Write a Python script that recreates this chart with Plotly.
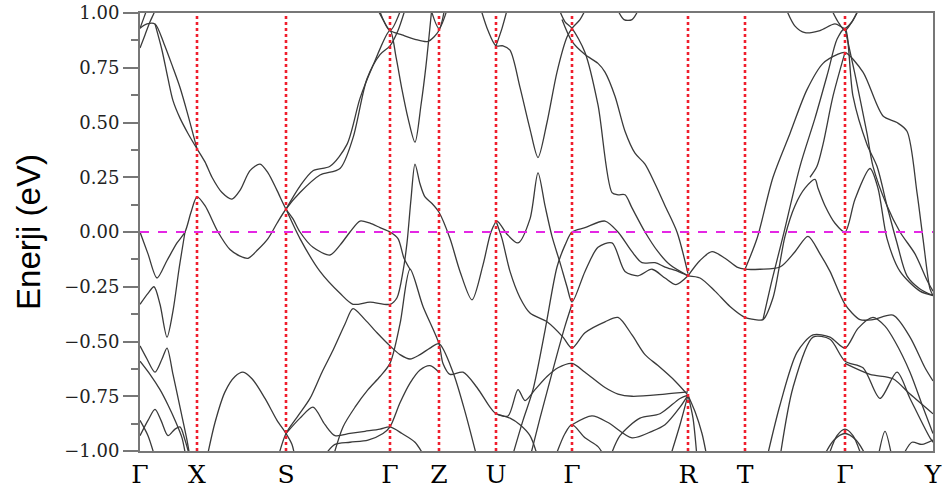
import plotly.graph_objects as go

# ---- high-symmetry path (k-path distance, arbitrary units) ----
k_ticks = [0, 57, 146, 250, 299, 356, 432, 548, 605, 705, 793]
k_labels = ['Γ', 'X', 'S', 'Γ', 'Z', 'U', 'Γ', 'R', 'T', 'Γ', 'Y']

e_ticks = [-1.0, -0.75, -0.5, -0.25, 0.0, 0.25, 0.5, 0.75, 1.0]
e_labels = ['−1.00', '−0.75', '−0.50', '−0.25', '0.00', '0.25', '0.50', '0.75', '1.00']
e_minor = [-0.875, -0.625, -0.375, -0.125, 0.125, 0.375, 0.625, 0.875]

# ---- bands: [k, E(eV)] ----
gx_top_a = [[0, 0.93], [7, 0.95], [15, 0.95], [24, 0.86], [33, 0.75], [40, 0.66], [47, 0.55], [57, 0.38]]
gx_top_b = [[15, 0.95], [22, 0.83], [28, 0.70], [33, 0.60], [40, 0.52], [48, 0.45], [57, 0.38]]
gx_top_c = [[0, 0.84], [5, 0.90], [10, 0.96], [14, 1.00], [16, 1.03]]
gx_top_d = [[0, 0.93], [4, 0.98], [8, 1.03]]

band_xs_up = [[57, 0.38], [65, 0.32], [72, 0.25], [82, 0.18], [92, 0.15], [100, 0.19], [110, 0.28],
              [120, 0.31], [128, 0.27], [137, 0.19], [146, 0.105], [153, 0.06], [160, 0.0],
              [173, -0.07], [190, -0.105], [200, -0.06], [210, 0.0], [220, 0.05], [230, 0.04],
              [240, 0.02], [250, 0.0], [258, -0.03], [264, -0.12], [270, -0.17]]
band_xs_lo = [[0, 0.0], [8, -0.10], [17, -0.21], [27, -0.13], [37, -0.05], [45, 0.0], [51, 0.09],
              [57, 0.16], [65, 0.12], [78, 0.0], [90, -0.08], [100, -0.11], [108, -0.12], [118, -0.08],
              [128, -0.03], [137, 0.04], [146, 0.105], [160, 0.18], [180, 0.26], [200, 0.29],
              [213, 0.43], [227, 0.70], [240, 0.81], [250, 0.85], [258, 0.92], [266, 1.03]]
band_sg_out = [[146, 0.105], [160, 0.21], [173, 0.28], [190, 0.30], [207, 0.40], [220, 0.61],
               [233, 0.76], [250, 0.92], [256, 0.80], [262, 0.65], [268, 0.52], [275, 0.41],
               [281, 0.58], [286, 0.76], [292, 1.03]]
band_gz_top = [[236, 1.03], [243, 0.97], [250, 0.92], [262, 0.90], [275, 0.88], [288, 0.87],
               [299, 0.92], [305, 1.03]]
band_g2_v = [[238, 1.03], [250, 0.92], [262, 1.03]]
band_z_v = [[290, 1.03], [299, 0.93], [308, 1.03]]
band_main = [[146, 0.105], [160, -0.03], [180, -0.18], [200, -0.28], [213, -0.33], [230, -0.32],
             [250, -0.33], [257, -0.30], [263, -0.18], [267, -0.05], [271, 0.15], [275, 0.31],
             [280, 0.22], [285, 0.16], [292, 0.13], [299, 0.09], [310, -0.03], [320, -0.18],
             [332, -0.31], [343, -0.15], [351, 0.0], [357, 0.05], [367, -0.01], [378, -0.05],
             [390, 0.06], [398, 0.27], [405, 0.12], [412, -0.02], [420, -0.14], [427, -0.25],
             [432, -0.32], [445, -0.18], [458, -0.07], [472, -0.05], [485, -0.18], [498, -0.20],
             [512, -0.17], [525, -0.21], [536, -0.24], [548, -0.20]]
band_u_v = [[340, 1.03], [348, 0.92], [356, 0.85], [363, 0.85], [370, 0.83], [380, 0.66],
            [390, 0.47], [398, 0.34], [407, 0.50], [417, 0.73], [427, 0.89], [432, 0.93],
            [440, 0.97], [447, 1.03]]
band_u_up = [[356, 0.85], [362, 0.93], [368, 1.03]]
band_gr_1 = [[418, 1.03], [425, 0.96], [432, 0.93], [445, 0.82], [458, 0.58], [472, 0.18],
             [478, 0.17], [485, 0.17], [492, 0.11], [505, 0.0], [518, -0.09], [530, -0.15], [548, -0.20]]
band_gr_2 = [[422, 0.97], [432, 0.87], [445, 0.81], [458, 0.77], [465, 0.73], [475, 0.62],
             [485, 0.46], [495, 0.36], [505, 0.31], [515, 0.22], [525, 0.12], [537, 0.0], [548, -0.19]]
band_arc_1 = [[476, 1.03], [484, 0.97], [492, 0.97], [500, 1.03]]
band_arc_2 = [[645, 1.03], [655, 0.94], [665, 0.91], [680, 0.92], [695, 0.95], [705, 0.93],
              [712, 0.96], [720, 1.03]]
band_g4_v = [[690, 1.03], [698, 0.96], [705, 0.92], [712, 0.96], [720, 1.03]]

gx_lo_a = [[0, -0.52], [7, -0.58], [15, -0.64], [22, -0.58], [27, -0.53], [33, -0.65], [40, -0.80],
           [47, -0.95], [50, -1.03]]
gx_lo_b = [[0, -0.59], [10, -0.65], [20, -0.72], [28, -0.79], [36, -0.87], [42, -0.94], [46, -1.03]]
gx_lo_c = [[0, -0.93], [8, -0.86], [15, -0.81], [21, -0.86], [28, -0.93], [35, -0.90], [40, -0.89],
           [45, -0.95], [50, -1.03]]
gx_lo_d = [[0, -0.86], [8, -0.93], [15, -1.03]]
gx_mid = [[0, -0.33], [8, -0.28], [14, -0.25], [20, -0.33], [27, -0.48], [33, -0.36], [39, -0.17], [45, 0.0]]

band_xs_dome = [[67, -1.03], [75, -0.87], [85, -0.73], [95, -0.66], [103, -0.64], [112, -0.67],
                [125, -0.76], [137, -0.86], [146, -0.92], [152, -0.97], [155, -1.03]]
band_f = [[138, -1.03], [146, -0.92], [158, -0.84], [170, -0.76], [182, -0.64], [193, -0.54],
          [205, -0.42], [213, -0.35], [225, -0.40], [237, -0.46], [250, -0.52], [260, -0.56],
          [270, -0.58], [280, -0.56], [290, -0.53], [299, -0.51], [313, -0.64], [325, -0.82], [337, -1.03]]
band_i = [[193, -1.03], [203, -0.89], [215, -0.80], [228, -0.72], [240, -0.66], [250, -0.60],
          [260, -0.42], [270, -0.17], [283, -0.34], [299, -0.51], [303, -0.60], [310, -0.65],
          [323, -0.64], [337, -0.71], [350, -0.80], [356, -0.83], [368, -0.84], [378, -0.72],
          [385, -0.77], [395, -0.72], [407, -0.66], [418, -0.62], [432, -0.60], [445, -0.64],
          [465, -0.71], [478, -0.74], [492, -0.75], [525, -0.74], [548, -0.73]]
band_g = [[146, -0.92], [160, -0.85], [173, -0.80], [185, -0.88], [195, -0.93], [210, -0.92],
          [225, -0.91], [240, -0.90], [250, -0.89], [262, -0.92], [275, -0.96], [285, -1.03]]
band_h = [[183, -1.03], [195, -0.97], [210, -0.96], [228, -0.95], [243, -0.92], [250, -0.89],
          [260, -0.78], [270, -0.69], [280, -0.63], [290, -0.61], [299, -0.64]]
band_m = [[356, 0.05], [362, -0.03], [370, -0.18], [380, -0.30], [390, -0.37], [407, -0.41],
          [423, -0.48], [432, -0.53], [445, -0.46], [465, -0.41], [478, -0.39], [492, -0.47],
          [505, -0.56], [518, -0.61], [535, -0.68], [548, -0.745]]
band_la = [[372, -1.03], [383, -0.86], [393, -0.72], [405, -0.45], [417, -0.16], [425, -0.06],
           [432, 0.0], [445, 0.02], [465, 0.05], [478, 0.0], [492, -0.09], [502, -0.14],
           [515, -0.14], [525, -0.16], [538, -0.18], [548, -0.20]]
band_lb = [[390, -1.03], [400, -0.85], [417, -0.56], [425, -0.43], [432, -0.33]]
band_u_lo = [[356, -0.83], [370, -0.85], [380, -0.88], [390, -0.93], [398, -1.03]]
band_o1 = [[415, -1.03], [425, -0.92], [432, -0.88], [445, -0.94], [458, -0.98], [465, -1.03]]
band_o2 = [[432, -0.88], [452, -0.84], [468, -0.87], [492, -0.94], [512, -0.91], [525, -0.88],
           [540, -0.80], [548, -0.745]]
band_rd = [[470, -1.03], [480, -0.93], [500, -0.85], [520, -0.83], [540, -0.76], [548, -0.745]]
band_ra = [[548, -0.745], [555, -0.82], [562, -0.92], [567, -1.03]]
band_rb = [[548, -0.745], [553, -0.85], [557, -1.03]]
band_rc = [[530, -1.03], [540, -0.88], [548, -0.745]]

band_rt1 = [[548, -0.20], [560, -0.13], [572, -0.09], [585, -0.12], [597, -0.16], [605, -0.17],
            [620, -0.17], [640, -0.16], [655, -0.09], [668, -0.02], [680, -0.10], [690, -0.18],
            [705, -0.33], [720, -0.40], [733, -0.40], [753, -0.38], [770, -0.48], [785, -0.62], [793, -0.68]]
band_rt2 = [[548, -0.20], [560, -0.21], [575, -0.27], [590, -0.34], [605, -0.39], [615, -0.40],
            [623, -0.40], [633, -0.30], [645, -0.02], [655, 0.12], [665, 0.20], [675, 0.24],
            [678, 0.20], [685, 0.12], [695, 0.04], [705, 0.0], [715, 0.15], [730, 0.29],
            [738, 0.20], [747, -0.03], [760, -0.18], [780, -0.27], [793, -0.29]]
band_q1 = [[605, -0.17], [617, -0.03], [633, 0.25], [650, 0.45], [667, 0.65], [683, 0.77],
           [697, 0.81], [705, 0.82], [723, 0.73], [743, 0.53], [757, 0.50], [767, 0.46],
           [777, 0.18], [783, -0.03], [790, -0.26], [793, -0.29]]
band_q2 = [[623, -0.40], [632, -0.22], [643, -0.02], [660, 0.30], [675, 0.52], [688, 0.73],
           [697, 0.88], [705, 0.93], [713, 0.62], [727, 0.40], [737, 0.30], [747, 0.12],
           [757, -0.05], [767, -0.20], [780, -0.26], [793, -0.29]]
band_q3 = [[670, 0.25], [677, 0.30], [683, 0.40], [693, 0.62], [705, 0.82]]
band_y2 = [[705, 0.93], [715, 0.72], [727, 0.45], [733, 0.30], [747, 0.12], [760, 0.0],
           [775, -0.10], [787, -0.22], [793, -0.27]]
band_w1 = [[627, -1.03], [640, -0.79], [657, -0.55], [673, -0.47], [690, -0.48], [705, -0.53],
           [718, -0.44], [733, -0.39], [745, -0.43], [755, -0.50], [770, -0.64], [783, -0.80], [793, -0.92]]
band_w2 = [[640, -1.03], [653, -0.71], [673, -0.48], [690, -0.49], [705, -0.59], [723, -0.62],
           [740, -0.76], [757, -0.64], [770, -0.76], [790, -0.94], [795, -0.97]]
band_w3 = [[705, -0.60], [730, -0.65], [753, -0.67], [770, -0.74], [793, -0.83]]
band_b1 = [[688, -1.03], [697, -0.93], [705, -0.90], [713, -0.93], [722, -1.03]]
band_b2 = [[683, -1.03], [694, -0.95], [705, -0.92], [716, -0.95], [727, -1.03]]
band_b3 = [[738, -1.03], [745, -0.91], [752, -1.03]]
band_b4 = [[762, -1.03], [772, -0.96], [782, -0.97], [793, -0.95]]

bands = [gx_top_a, gx_top_b, gx_top_c, gx_top_d, band_xs_up, band_xs_lo, band_sg_out, band_gz_top,
         band_g2_v, band_z_v, band_main, band_u_v, band_u_up, band_gr_1, band_gr_2, band_arc_1,
         band_arc_2, band_g4_v, gx_lo_a, gx_lo_b, gx_lo_c, gx_lo_d, gx_mid, band_xs_dome, band_f,
         band_i, band_g, band_h, band_m, band_la, band_lb, band_u_lo, band_o1, band_o2, band_rd,
         band_ra, band_rb, band_rc, band_rt1, band_rt2, band_q1, band_q2, band_q3, band_y2,
         band_w1, band_w2, band_w3, band_b1, band_b2, band_b3, band_b4]

fig = go.Figure()
for b in bands:
    fig.add_trace(go.Scatter(
        x=[p[0] for p in b], y=[p[1] for p in b], mode='lines',
        line=dict(color='#3a3a3a', width=1.3, shape='spline', smoothing=0.8),
        hoverinfo='skip', showlegend=False))

for k in k_ticks[1:-1]:
    fig.add_vline(x=k, line=dict(color='rgb(240,30,45)', width=2.6, dash='dot'))
fig.add_hline(y=0, line=dict(color='rgb(228,40,228)', width=2, dash='dash'))

axis_col = '#777777'
fig.update_layout(
    width=946, height=488,
    margin=dict(l=140, r=13, t=13, b=37, autoexpand=False),
    paper_bgcolor='white', plot_bgcolor='white',
    showlegend=False,
    xaxis=dict(range=[k_ticks[0], k_ticks[-1]], tickmode='array', tickvals=k_ticks, ticktext=k_labels,
               tickfont=dict(family='DejaVu Serif', size=25, color='black'),
               showgrid=False, zeroline=False, showline=True, linecolor=axis_col, linewidth=2,
               mirror=True, ticks='', automargin=False),
    yaxis=dict(range=[-1, 1], tickmode='array', tickvals=e_ticks, ticktext=e_labels,
               tickfont=dict(family='DejaVu Serif', size=18, color='#222'),
               ticks='outside', ticklen=15, tickwidth=2, tickcolor=axis_col,
               minor=dict(tickmode='array', tickvals=e_minor, ticks='outside', ticklen=7,
                          tickwidth=2, tickcolor=axis_col),
               showgrid=False, zeroline=False, showline=True, linecolor=axis_col, linewidth=2,
               mirror=True, automargin=False,
               title=dict(text='Enerji (eV)', font=dict(family='Liberation Sans', size=33, color='black'),
                          standoff=14)),
)

fig.write_html('out.html')
